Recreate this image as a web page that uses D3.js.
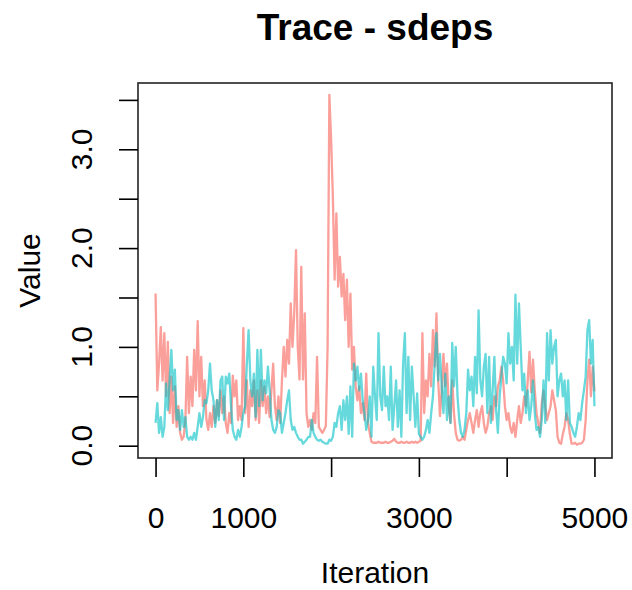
<!DOCTYPE html>
<html>
<head>
<meta charset="utf-8">
<script src="https://cdn.jsdelivr.net/npm/d3@7"></script>
<style>
  body { margin: 0; background: #fff; }
  text { font-family: "Liberation Sans", Arial, Helvetica, sans-serif; fill: #000; }
</style>
</head>
<body>
<div id="chart"></div>
<script>
// thinned trace: one value every 20 iterations (0..5000)
const step = 20;

const chain1 = [
  1.54, 0.56, 0.83, 1.20, 0.66, 1.14, 0.50, 1.05, 0.33, 0.70,
  0.23, 0.60, 0.19, 0.40, 0.13, 0.06, 0.09, 0.26, 0.90, 0.33,
  0.70, 0.40, 0.97, 0.56, 1.26, 0.50, 0.90, 0.40, 0.66, 0.26,
  0.16, 0.33, 0.19, 0.40, 0.23, 0.46, 0.30, 0.56, 0.33, 0.50,
  0.23, 0.13, 0.33, 0.23, 0.71, 0.50, 0.66, 0.26, 0.40, 0.26,
  1.19, 0.33, 0.66, 0.19, 0.56, 0.40, 0.66, 0.26, 0.56, 0.23,
  0.66, 0.40, 0.60, 0.33, 0.50, 0.29, 0.56, 0.83, 0.40, 0.26,
  0.50, 0.23, 0.66, 1.00, 0.70, 1.07, 0.83, 1.44, 1.00, 1.34,
  1.98, 1.00, 0.67, 1.81, 0.67, 1.34, 0.33, 0.19, 0.26, 0.16,
  0.33, 0.23, 0.90, 0.19, 0.16, 0.13, 0.16, 0.20, 1.00, 3.55,
  3.10, 2.52, 1.68, 2.35, 1.61, 1.91, 1.51, 1.74, 1.27, 1.68,
  1.00, 1.54, 0.77, 1.00, 0.60, 0.46, 0.60, 0.33, 0.43, 0.26,
  0.73, 0.23, 0.13, 0.04, 0.03, 0.03, 0.03, 0.04, 0.03, 0.03,
  0.03, 0.04, 0.03, 0.03, 0.04, 0.05, 0.07, 0.04, 0.03, 0.03,
  0.04, 0.03, 0.03, 0.04, 0.03, 0.03, 0.04, 0.03, 0.04, 0.03,
  0.04, 0.05, 1.14, 0.33, 0.66, 0.50, 0.93, 0.60, 1.17, 0.80,
  1.34, 0.66, 0.30, 0.56, 0.93, 0.60, 0.83, 0.40, 0.23, 0.66,
  0.33, 0.13, 0.06, 0.05, 0.06, 0.09, 0.06, 0.16, 0.26, 0.33,
  0.23, 0.13, 0.26, 0.36, 0.19, 0.33, 0.40, 0.23, 0.13, 0.19,
  0.33, 0.40, 0.26, 0.50, 0.40, 0.60, 0.66, 0.80, 0.66, 0.40,
  0.26, 0.33, 0.19, 0.13, 0.23, 0.09, 0.26, 0.40, 0.23, 0.33,
  0.50, 0.40, 0.66, 0.95, 0.54, 0.87, 0.56, 0.33, 0.23, 0.13,
  0.43, 0.56, 0.40, 0.26, 0.33, 0.40, 0.56, 0.46, 0.36, 0.09,
  0.03, 0.02, 0.12, 0.19, 0.33, 0.26, 0.12, 0.02, 0.02, 0.03,
  0.01, 0.02, 0.02, 0.03, 0.06, 0.26, 0.66, 0.87, 0.50, 0.80,
  0.55
];

const chain2 = [
  0.23, 0.43, 0.13, 0.29, 0.09, 0.19, 0.63, 0.36, 0.66, 0.97,
  0.56, 0.77, 0.26, 0.36, 0.16, 0.36, 0.19, 0.29, 0.09, 0.06,
  0.09, 0.06, 0.13, 0.06, 0.19, 0.33, 0.19, 0.29, 0.46, 0.43,
  0.56, 0.83, 0.56, 0.46, 0.19, 0.46, 0.26, 0.66, 0.70, 0.26,
  0.70, 0.63, 0.73, 0.40, 0.16, 0.09, 0.06, 0.16, 0.09, 0.19,
  0.33, 0.40, 0.83, 1.17, 0.66, 0.50, 0.73, 0.29, 0.97, 0.40,
  0.97, 0.46, 0.66, 0.53, 0.80, 0.56, 0.26, 0.16, 0.13, 0.19,
  0.36, 0.33, 0.13, 0.23, 0.33, 0.46, 0.56, 0.26, 0.16, 0.19,
  0.13, 0.09, 0.06, 0.06, 0.02, 0.04, 0.06, 0.09, 0.09, 0.26,
  0.13, 0.09, 0.06, 0.05, 0.06, 0.04, 0.03, 0.02, 0.02, 0.06,
  0.05, 0.09, 0.23, 0.19, 0.33, 0.40, 0.16, 0.46, 0.26, 0.50,
  0.12, 0.60, 0.09, 0.83, 0.66, 0.80, 0.56, 0.73, 0.46, 0.33,
  0.16, 0.26, 0.50, 0.09, 0.80, 0.50, 0.26, 1.14, 0.50, 0.36,
  0.80, 0.40, 0.50, 0.26, 0.80, 0.16, 0.40, 0.66, 0.19, 0.56,
  0.09, 0.83, 1.14, 0.33, 0.90, 0.26, 0.80, 0.50, 0.19, 0.53,
  0.12, 0.09, 0.06, 0.09, 0.16, 0.26, 0.13, 0.33, 0.50, 0.83,
  1.14, 0.66, 0.93, 0.60, 0.33, 0.73, 0.26, 0.50, 0.23, 1.04,
  0.60, 1.00, 0.50, 0.26, 0.13, 0.09, 0.16, 0.33, 0.77, 0.56,
  0.70, 0.40, 0.90, 0.53, 1.37, 0.66, 0.50, 0.80, 0.93, 0.33,
  0.90, 0.23, 0.56, 0.90, 0.36, 0.13, 0.50, 0.70, 0.90, 0.83,
  0.63, 1.14, 0.83, 1.00, 0.66, 1.53, 0.83, 1.44, 1.00, 0.56,
  0.73, 0.33, 0.56, 0.26, 0.40, 0.66, 0.33, 0.16, 0.19, 0.09,
  0.26, 0.66, 0.23, 1.14, 0.66, 1.17, 0.83, 1.00, 1.07, 0.50,
  0.66, 0.73, 0.50, 0.66, 0.26, 0.66, 0.23, 0.19, 0.13, 0.09,
  0.19, 0.33, 0.26, 0.43, 0.56, 0.70, 1.17, 1.27, 0.83, 1.07,
  0.40
];

const xTicks = [0, 1000, 2000, 3000, 4000, 5000];
const xLabels = ["0", "1000", "", "3000", "", "5000"];
const yTicks = [0, 0.5, 1, 1.5, 2, 2.5, 3, 3.5];
const yLabels = ["0.0", "", "1.0", "", "2.0", "", "3.0", ""];

const width = 632, height = 590;
const box = { left: 138, right: 612, top: 83, bottom: 458 };

const svg = d3.select("#chart").append("svg")
  .attr("width", width)
  .attr("height", height)
  .style("display", "block");

// R style: range padded 4% on each side
const x = d3.scaleLinear().domain([-200, 5200]).range([box.left, box.right]);
const y = d3.scaleLinear().domain([-0.1245, 3.671]).range([box.bottom, box.top]);

const line = d3.line()
  .x((d, i) => x(i * step))
  .y(d => y(d));

svg.append("path")
  .datum(chain1)
  .attr("d", line)
  .attr("fill", "none")
  .attr("stroke", "#F8766D")
  .attr("stroke-opacity", 0.7)
  .attr("stroke-width", 2.3)
  .attr("stroke-linejoin", "round");

svg.append("path")
  .datum(chain2)
  .attr("d", line)
  .attr("fill", "none")
  .attr("stroke", "#00BFC4")
  .attr("stroke-opacity", 0.6)
  .attr("stroke-width", 2.3)
  .attr("stroke-linejoin", "round");

// box
svg.append("rect")
  .attr("x", box.left)
  .attr("y", box.top)
  .attr("width", box.right - box.left)
  .attr("height", box.bottom - box.top)
  .attr("fill", "none")
  .attr("stroke", "#222")
  .attr("stroke-width", 1.6);

// x axis
const xAxis = svg.append("g")
  .attr("transform", `translate(0,${box.bottom})`)
  .call(d3.axisBottom(x)
    .tickValues(xTicks)
    .tickFormat((d, i) => xLabels[i])
    .tickSizeInner(19)
    .tickSizeOuter(0)
    .tickPadding(30));
xAxis.select(".domain").remove();
xAxis.selectAll(".tick line").attr("stroke", "#000").attr("stroke-width", 1.6);
xAxis.selectAll(".tick text")
  .style("font-size", "30px")
  .style("font-family", "'Liberation Sans', Arial, sans-serif");

// y axis (labels are rotated like R's default las = 0)
const yAxis = svg.append("g")
  .attr("transform", `translate(${box.left},0)`)
  .call(d3.axisLeft(y)
    .tickValues(yTicks)
    .tickFormat("")
    .tickSizeInner(19)
    .tickSizeOuter(0));
yAxis.select(".domain").remove();
yAxis.selectAll(".tick line").attr("stroke", "#000").attr("stroke-width", 1.6);

svg.append("g").selectAll("text")
  .data(yTicks)
  .enter().append("text")
  .attr("transform", d => `translate(92,${y(d)}) rotate(-90)`)
  .attr("text-anchor", "middle")
  .style("font-size", "30px")
  .text((d, i) => yLabels[i]);

// titles
svg.append("text")
  .attr("x", (box.left + box.right) / 2)
  .attr("y", 40)
  .attr("text-anchor", "middle")
  .style("font-size", "37px")
  .style("font-weight", "bold")
  .text("Trace - sdeps");

svg.append("text")
  .attr("x", (box.left + box.right) / 2)
  .attr("y", 583)
  .attr("text-anchor", "middle")
  .style("font-size", "30px")
  .text("Iteration");

svg.append("text")
  .attr("transform", `translate(40,${(box.top + box.bottom) / 2}) rotate(-90)`)
  .attr("text-anchor", "middle")
  .style("font-size", "30px")
  .text("Value");
</script>
</body>
</html>
